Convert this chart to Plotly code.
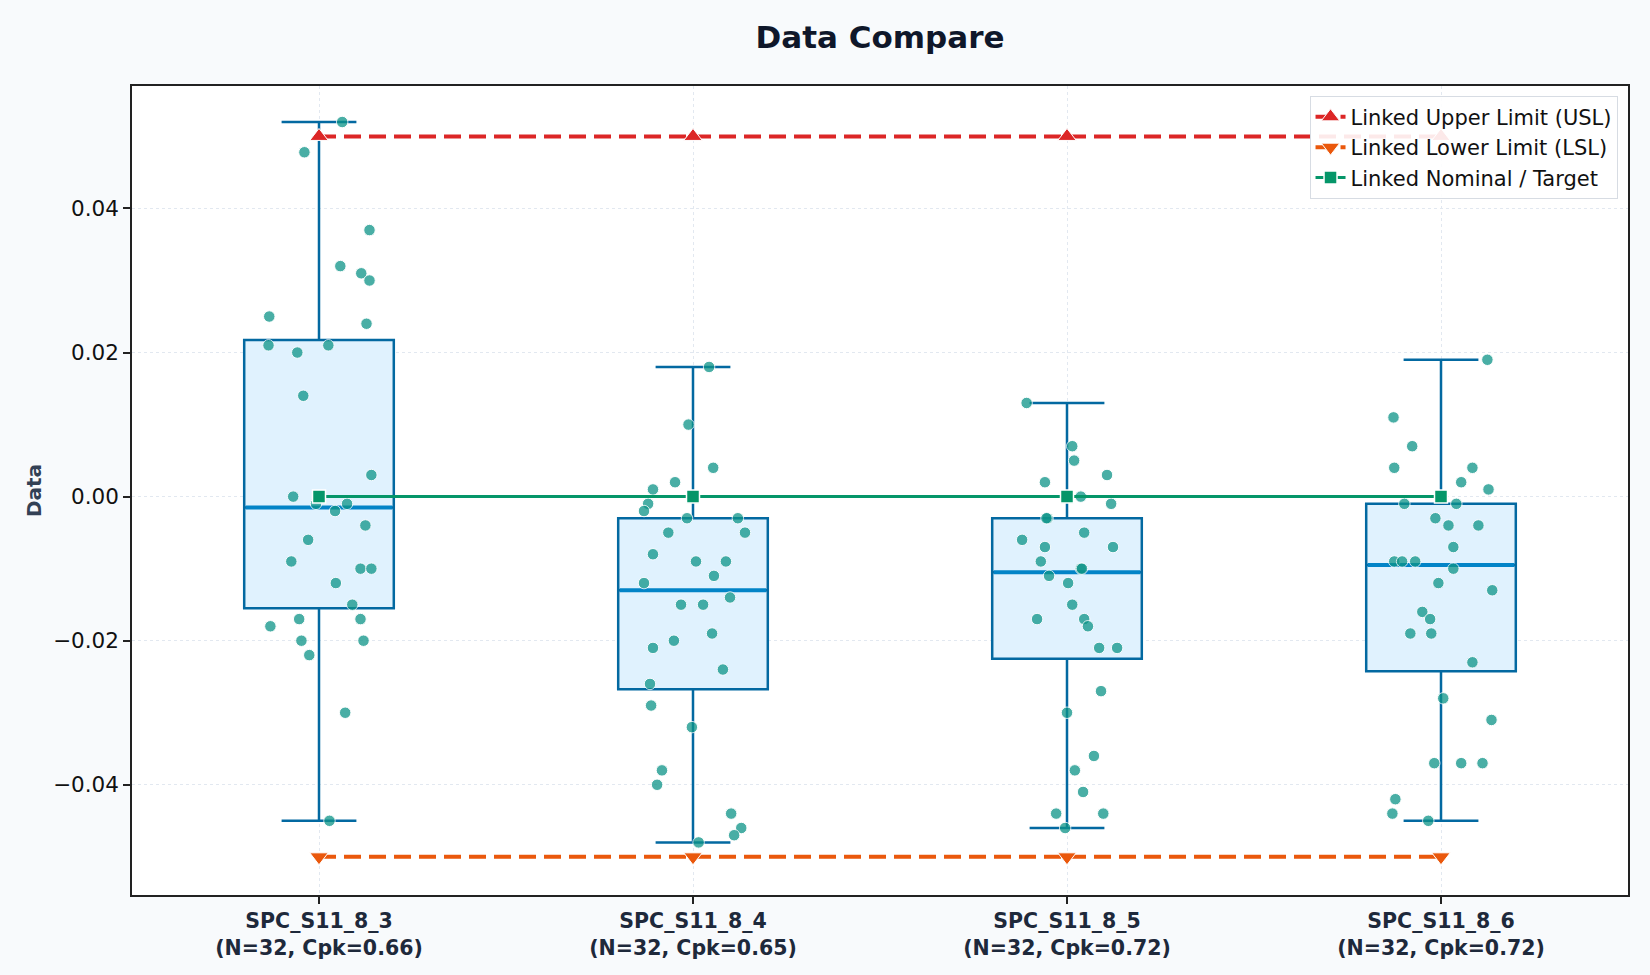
# -*- coding: utf-8 -*-
"""
Data Compare - box plot with jittered points and linked spec limits
"""

# --------------------------------------------------------------- #
#### Importing Libraries ####
# --------------------------------------------------------------- #
import numpy as np
import plotly.graph_objects as go

# --------------------------------------------------------------- #
#### Data ####
# --------------------------------------------------------------- #
names = ['SPC_S11_8_3', 'SPC_S11_8_4', 'SPC_S11_8_5', 'SPC_S11_8_6']
cpk = [0.66, 0.65, 0.72, 0.72]

g1 = [0.052, 0.0478, 0.037, 0.032, 0.031, 0.030, 0.025, 0.024, 0.021, 0.021,
      0.020, 0.014, 0.003, 0.000, -0.001, -0.001, -0.002, -0.004, -0.006, -0.009,
      -0.010, -0.010, -0.012, -0.015, -0.017, -0.017, -0.018, -0.020, -0.020,
      -0.022, -0.030, -0.045]
g2 = [0.018, 0.010, 0.004, 0.002, 0.001, -0.001, -0.002, -0.003, -0.003, -0.005,
      -0.005, -0.008, -0.009, -0.009, -0.011, -0.012, -0.014, -0.015, -0.015,
      -0.019, -0.020, -0.021, -0.024, -0.026, -0.029, -0.032, -0.038, -0.040,
      -0.044, -0.046, -0.047, -0.048]
g3 = [0.013, 0.007, 0.005, 0.003, 0.002, 0.000, -0.001, -0.003, -0.003, -0.005,
      -0.006, -0.007, -0.007, -0.009, -0.010, -0.010, -0.011, -0.012, -0.015,
      -0.017, -0.017, -0.018, -0.021, -0.021, -0.027, -0.030, -0.036, -0.038,
      -0.041, -0.044, -0.044, -0.046]
g4 = [0.011, 0.007, 0.004, 0.004, 0.002, -0.001, -0.001, -0.003, -0.004, -0.007,
      -0.009, -0.009, -0.009, -0.010, -0.012, -0.016, -0.017, -0.019, -0.019,
      -0.023, -0.028, -0.037, -0.037, -0.042, 0.019, 0.001, -0.004, -0.013,
      -0.031, -0.037, -0.044, -0.045]

# horizontal jitter of each point (category units)
j1 = [0.062, -0.039, 0.135, 0.057, 0.113, 0.135, -0.133, 0.127, -0.135, 0.025,
      -0.058, -0.042, 0.140, -0.069, -0.008, 0.075, 0.043, 0.124, -0.029, -0.074,
      0.111, 0.140, 0.045, 0.089, -0.053, 0.111, -0.130, -0.047, 0.119, -0.026,
      0.070, 0.028]
j2 = [0.043, -0.012, 0.054, -0.048, -0.107, -0.120, -0.131, -0.016, 0.120, -0.066,
      0.139, -0.107, 0.008, 0.088, 0.056, -0.131, 0.099, -0.032, 0.027, 0.051,
      -0.051, -0.107, 0.080, -0.115, -0.112, -0.003, -0.083, -0.096, 0.102, 0.129,
      0.110, 0.015]
j3 = [-0.108, 0.014, 0.019, 0.107, -0.059, 0.037, 0.118, -0.052, -0.055, 0.046,
      -0.120, -0.059, 0.123, -0.070, 0.037, 0.040, -0.048, 0.003, 0.014, -0.080,
      0.046, 0.056, 0.086, 0.134, 0.091, 0.000, 0.072, 0.021, 0.043, -0.029,
      0.097, -0.005]
j4 = [-0.127, -0.077, -0.125, 0.084, 0.054, -0.098, 0.041, -0.015, 0.020, 0.033,
      -0.125, -0.104, -0.069, 0.033, -0.007, -0.050, -0.029, -0.082, -0.026, 0.084,
      0.006, -0.018, 0.054, -0.122, 0.124, 0.127, 0.100, 0.137, 0.135, 0.111,
      -0.130, -0.034]

usl = [0.05, 0.05, 0.05, 0.05]
lsl = [-0.05, -0.05, -0.05, -0.05]
nominal = [0.0, 0.0, 0.0, 0.0]

groups = [g1, g2, g3, g4]
jitters = [j1, j2, j3, j4]

# --------------------------------------------------------------- #
#### Styles ####
# --------------------------------------------------------------- #
FONT = 'DejaVu Sans'
BOX_EDGE = '#0369a1'
BOX_FILL = '#e0f2fe'
MEDIAN = '#0284c7'
POINT = '#0d9488'
BOX_W = 0.4

fig = go.Figure()

# --------------------------------------------------------------- #
#### Boxes + points ####
# --------------------------------------------------------------- #
for i, vals in enumerate(groups):
    q1, med, q3 = np.percentile(vals, [25, 50, 75])
    fig.add_trace(go.Box(
        x=[i], q1=[q1], median=[med], q3=[q3],
        lowerfence=[min(vals)], upperfence=[max(vals)],
        width=BOX_W, whiskerwidth=0.5,
        fillcolor=BOX_FILL, line=dict(color=BOX_EDGE, width=2.5),
        showlegend=False, hoverinfo='skip'))

    fig.add_trace(go.Scatter(
        x=[i - BOX_W / 2 + 0.004, i + BOX_W / 2 - 0.004], y=[med, med],
        mode='lines', line=dict(color=MEDIAN, width=4),
        showlegend=False, hoverinfo='skip'))

for i, vals in enumerate(groups):
    fig.add_trace(go.Scatter(
        x=[i + j for j in jitters[i]], y=vals, mode='markers',
        marker=dict(color=POINT, size=11.5, opacity=0.75,
                    line=dict(color='white', width=1)),
        showlegend=False))

# --------------------------------------------------------------- #
#### Limit lines ####
# --------------------------------------------------------------- #
xs = list(range(len(names)))
fig.add_trace(go.Scatter(
    x=xs, y=usl, mode='lines+markers', name='Linked Upper Limit (USL)',
    line=dict(color='#dc2626', width=4, dash='17px,8px'),
    marker=dict(symbol='triangle-up', size=16, color='#dc2626',
                line=dict(color='white', width=1))))
fig.add_trace(go.Scatter(
    x=xs, y=lsl, mode='lines+markers', name='Linked Lower Limit (LSL)',
    line=dict(color='#ea580c', width=4, dash='17px,8px'),
    marker=dict(symbol='triangle-down', size=16, color='#ea580c',
                line=dict(color='white', width=1))))
fig.add_trace(go.Scatter(
    x=xs, y=nominal, mode='lines+markers', name='Linked Nominal / Target',
    line=dict(color='#059669', width=3),
    marker=dict(symbol='square', size=13, color='#059669',
                line=dict(color='white', width=1.5))))

# --------------------------------------------------------------- #
#### Layout ####
# --------------------------------------------------------------- #
ticktext = ['<b>%s<br>(N=%d, Cpk=%.2f)</b>' % (n, len(g), c)
            for n, g, c in zip(names, groups, cpk)]

fig.update_layout(
    width=1650, height=975,
    margin=dict(l=132, r=22, t=86, b=80),
    paper_bgcolor='#f8fafc', plot_bgcolor='white',
    font=dict(family=FONT, size=21, color='#111111'),
    title=dict(text='<b>Data Compare</b>', x=0.5, xref='paper',
               y=1 - 37 / 975, yref='container', yanchor='middle',
               font=dict(size=31, color='#0f172a')),
    legend=dict(x=0.993, y=0.988, xanchor='right', yanchor='top',
                bgcolor='rgba(255,255,255,0.9)', bordercolor='#d7dce3',
                borderwidth=1, font=dict(size=21, color='#111111'),
                tracegroupgap=0),
    showlegend=True,
)

fig.update_xaxes(
    range=[-0.5, 3.5], tickvals=xs, ticktext=ticktext,
    tickfont=dict(size=20.5, color='#1e293b'),
    ticks='outside', ticklen=7, tickwidth=1.5, tickcolor='#222222',
    showgrid=True, gridcolor='#e2e8f0', griddash='dot', gridwidth=1.2,
    showline=True, mirror=True, linecolor='#222222', linewidth=1.5,
    zeroline=False)

fig.update_yaxes(
    range=[-0.0553, 0.0570], tickvals=[-0.04, -0.02, 0.0, 0.02, 0.04],
    tickformat='.2f', tickfont=dict(size=21.5, color='#111111'),
    ticks='outside', ticklen=7, tickwidth=1.5, tickcolor='#222222',
    showgrid=True, gridcolor='#e2e8f0', griddash='dot', gridwidth=1.2,
    showline=True, mirror=True, linecolor='#222222', linewidth=1.5,
    zeroline=False,
    title=dict(text='<b>Data</b>', font=dict(size=20, color='#334155'),
               standoff=6))

fig.write_html("out.html", config={'displayModeBar': False},
               post_script="document.body.style.margin='0px';")
